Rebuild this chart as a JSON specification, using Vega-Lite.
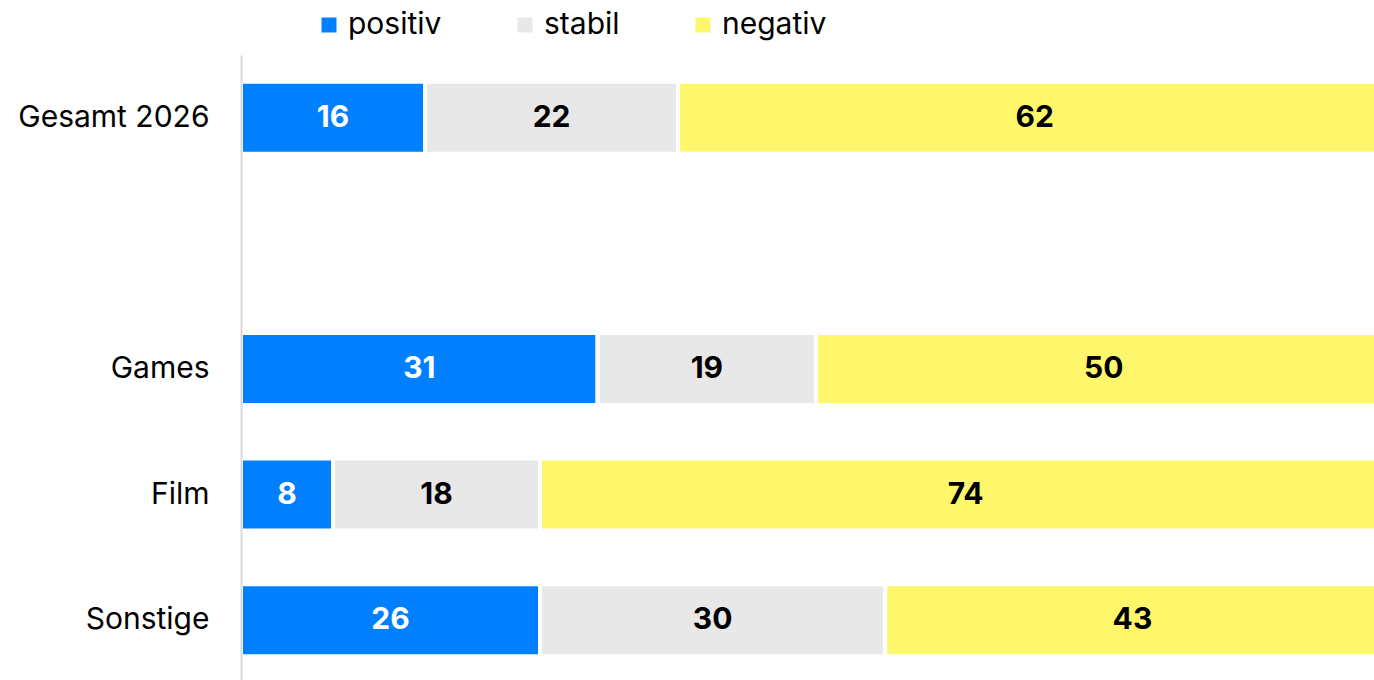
{
  "$schema": "https://vega.github.io/schema/vega-lite/v6.json",
  "width": 1133,
  "height": 628,
  "autosize": {"type": "none"},
  "padding": {"left": 241, "top": 55, "right": 0, "bottom": 0},
  "background": "white",
  "config": {"view": {"stroke": null}},
  "data": {
    "values": [
      {"kategorie": "Gesamt 2026", "bewertung": "positiv", "ordnung": 1, "wert": 16},
      {"kategorie": "Gesamt 2026", "bewertung": "stabil", "ordnung": 2, "wert": 22},
      {"kategorie": "Gesamt 2026", "bewertung": "negativ", "ordnung": 3, "wert": 62},
      {"kategorie": "Games", "bewertung": "positiv", "ordnung": 1, "wert": 31},
      {"kategorie": "Games", "bewertung": "stabil", "ordnung": 2, "wert": 19},
      {"kategorie": "Games", "bewertung": "negativ", "ordnung": 3, "wert": 50},
      {"kategorie": "Film", "bewertung": "positiv", "ordnung": 1, "wert": 8},
      {"kategorie": "Film", "bewertung": "stabil", "ordnung": 2, "wert": 18},
      {"kategorie": "Film", "bewertung": "negativ", "ordnung": 3, "wert": 74},
      {"kategorie": "Sonstige", "bewertung": "positiv", "ordnung": 1, "wert": 26},
      {"kategorie": "Sonstige", "bewertung": "stabil", "ordnung": 2, "wert": 30},
      {"kategorie": "Sonstige", "bewertung": "negativ", "ordnung": 3, "wert": 43}
    ]
  },
  "transform": [
    {"stack": "wert", "groupby": ["kategorie"], "sort": [{"field": "ordnung", "order": "ascending"}], "as": ["v0", "v1"]},
    {"calculate": "(datum.v0 + datum.v1) / 2", "as": "mitte"}
  ],
  "encoding": {
    "y": {
      "field": "kategorie",
      "type": "nominal",
      "scale": {"domain": ["Gesamt 2026", " ", "Games", "Film", "Sonstige"], "paddingInner": 0.427, "paddingOuter": 0.2135},
      "axis": {
        "title": null,
        "ticks": false,
        "labelPadding": 32,
        "labelLimit": 400,
        "labelFont": "Inter",
        "labelFontSize": 30,
        "labelColor": "#000000",
        "domainColor": "#d9d9d9",
        "domainWidth": 2,
        "zindex": 1
      }
    }
  },
  "layer": [
    {
      "mark": {"type": "bar", "stroke": "white", "strokeWidth": 4, "clip": true},
      "encoding": {
        "x": {"field": "v0", "type": "quantitative", "scale": {"domain": [0, 98.5], "nice": false, "zero": true}, "axis": null},
        "x2": {"field": "v1"},
        "color": {
          "field": "bewertung",
          "type": "nominal",
          "scale": {"domain": ["positiv", "stabil", "negativ"], "range": ["#0080FF", "#E8E8E8", "#FFF76B"]},
          "legend": {
            "title": null,
            "orient": "none",
            "direction": "horizontal",
            "legendX": 73,
            "legendY": -45,
            "symbolType": "square",
            "symbolSize": 225,
            "symbolStrokeWidth": 0,
            "labelFont": "Inter",
            "labelFontSize": 30,
            "labelColor": "#000000",
            "labelOffset": 4,
            "columnPadding": 68
          }
        }
      }
    },
    {
      "mark": {"type": "text", "font": "Inter", "fontSize": 30, "fontWeight": "bold", "baseline": "middle", "align": "center"},
      "encoding": {
        "x": {"field": "mitte", "type": "quantitative"},
        "text": {"field": "wert", "type": "quantitative"},
        "color": {"condition": {"test": "datum.bewertung === 'positiv'", "value": "#ffffff"}, "value": "#000000"}
      }
    }
  ]
}
